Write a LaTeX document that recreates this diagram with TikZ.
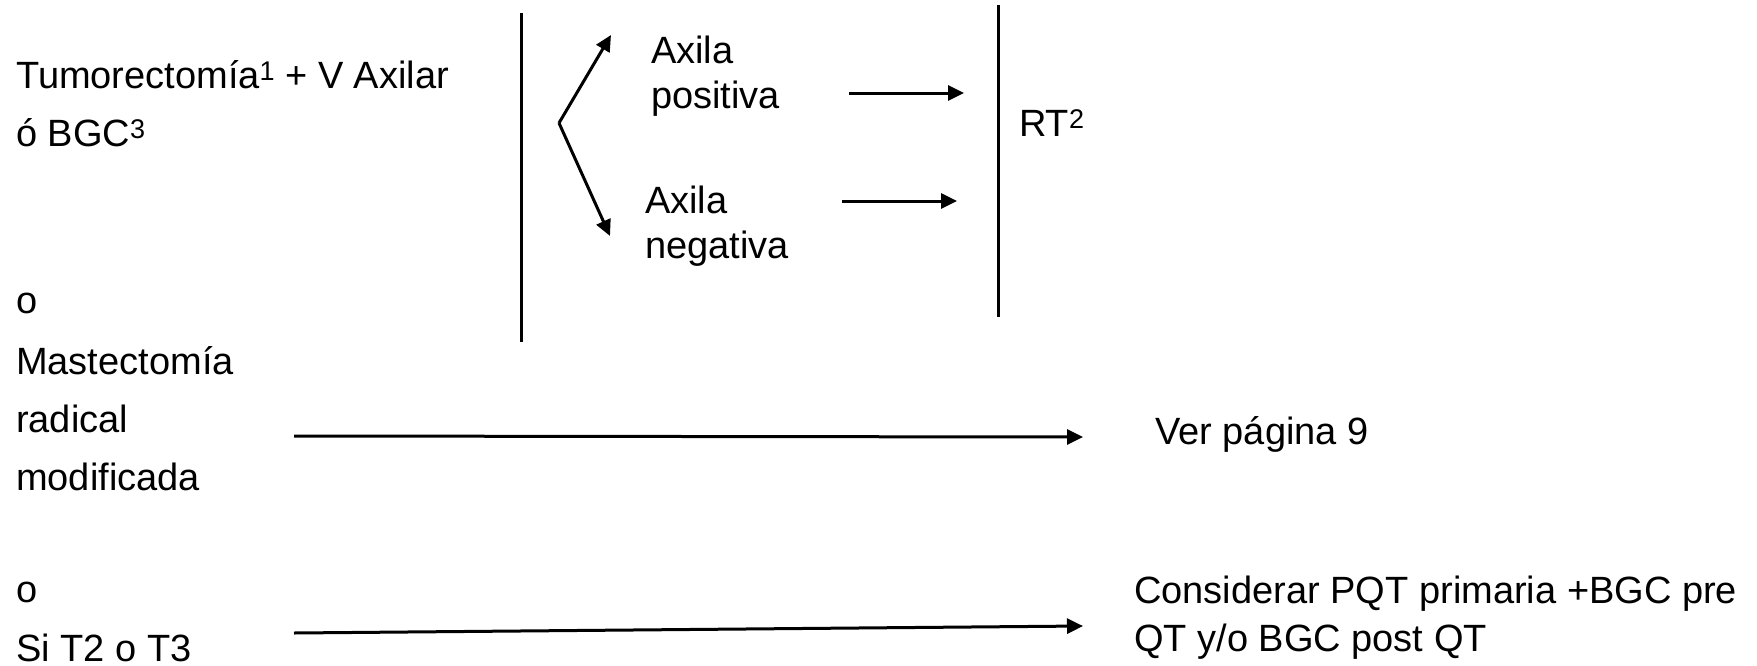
\documentclass[tikz,border=0pt]{standalone}
\usepackage{fontspec}
\setmainfont{Liberation Sans}
\usetikzlibrary{arrows.meta}
\newcommand\supnum[1]{\raisebox{8pt}{\fontsize{27}{27}\selectfont #1}}
\begin{document}
\begin{tikzpicture}[x=1pt,y=-1pt,
  txt/.style={anchor=base west, inner sep=0pt, align=left, font=\fontsize{38}{58}\selectfont},
  txtn/.style={anchor=base west, inner sep=0pt, align=left, font=\fontsize{38}{45}\selectfont},
  txtc/.style={anchor=base west, inner sep=0pt, align=left, font=\fontsize{38}{48}\selectfont},
  arr/.style={line width=3pt, -{Triangle[length=16pt,width=15pt]}},
  bar/.style={line width=3pt}]
\useasboundingbox (0,0) rectangle (1757,665);
% texts (anchor = baseline of the last line)
\node[txt] (tumor) at (16,146) {Tumorectomía\supnum{1} + V Axilar\\ó BGC\supnum{3}};
\node[txt] (o1) at (16,313) {o};
\node[txt] (mast) at (16,490) {Mastectomía\\radical\\modificada};
\node[txt] (o2) at (16,602) {o};
\node[txt] (si) at (16,661) {Si T2 o T3};
\node[txtn] (pos) at (651,108) {Axila\\positiva};
\node[txtn] (neg) at (645,258) {Axila\\negativa};
\node[txt] (rt) at (1019,136) {RT\supnum{2}};
\node[txt] (ver) at (1155,444) {Ver página 9};
\node[txtc] (cons) at (1134,651) {Considerar PQT primaria +BGC pre\\QT y/o BGC post QT};
% coordinates
\coordinate (lbt) at (521,13);
\coordinate (lbb) at (521,342);
\coordinate (rbt) at (998,5);
\coordinate (rbb) at (998,317);
\coordinate (fork) at (559,123);
\coordinate (fu) at (611,35);
\coordinate (fd) at (610,236);
\coordinate (pa) at (849,93);
\coordinate (pb) at (964,93);
\coordinate (na) at (842,201);
\coordinate (nb) at (957,201);
\coordinate (ma) at (294,436);
\coordinate (mb) at (1083,437);
\coordinate (sa) at (294,633);
\coordinate (sb) at (1083,626);
% bars
\draw[bar] (lbt) -- (lbb);
\draw[bar] (rbt) -- (rbb);
% arrows
\draw[arr] (fork) -- (fu);
\draw[arr] (fork) -- (fd);
\draw[arr] (pa) -- (pb);
\draw[arr] (na) -- (nb);
\draw[arr] (ma) -- (mb);
\draw[arr] (sa) -- (sb);
\end{tikzpicture}
\end{document}
